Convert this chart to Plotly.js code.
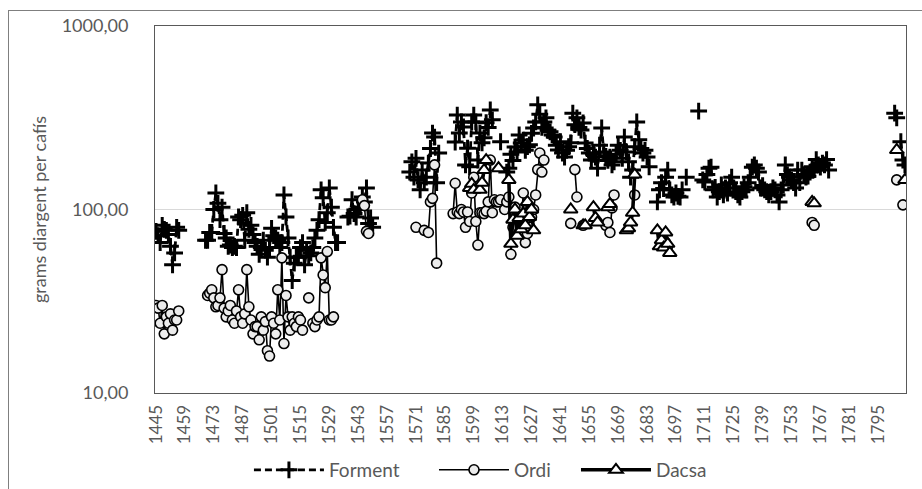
<!DOCTYPE html>
<html>
<head>
<meta charset="utf-8">
<script src="https://cdn.plot.ly/plotly-3.0.1.min.js"></script>
<style>
  html, body { margin: 0; padding: 0; background: #ffffff; }
  #wrap { position: relative; width: 922px; height: 489px; overflow: hidden; }
  #chart { position: absolute; left: 0; top: 0; width: 922px; height: 489px; }
  #frame { position: absolute; left: 8px; top: 10px; width: 930px; height: 500px;
           border-left: 1px solid #7f7f7f; border-top: 1px solid #7f7f7f; pointer-events: none; }
</style>
</head>
<body>
<div id="wrap">
  <div id="chart"></div>
  <div id="frame"></div>
</div>
<script>
// ---- Data (years as categories, values in grams of silver per cafís) ----
const xTickYears = [1445,1459,1473,1487,1501,1515,1529,1543,1557,1571,1585,1599,1613,
                    1627,1641,1655,1669,1683,1697,1711,1725,1739,1753,1767,1781,1795];
const yTickValues = [10, 100, 1000];
const yTickLabels = ['10,00', '100,00', '1000,00'];
const seriesNames = ['Forment', 'Ordi', 'Dacsa'];

const formentYears = [
  1445,1446,1447,1448,1449,1450,1451,1452,1453,1454,1455,1456,1457,
  1469,1470,1471,1472,1473,1474,1475,1476,1477,1478,
  1479,1480,1481,1482,1483,1484,1485,1486,1487,1488,
  1489,1490,1491,1492,1493,1494,1495,1496,1497,1498,
  1499,1500,1501,1502,1503,1504,1505,1506,1507,1508,
  1509,1510,1511,1512,1513,1514,1515,1516,1517,1518,
  1519,1520,1521,1522,1523,1524,1525,1526,1527,1528,
  1529,1530,1531,1532,1533,1534,
  1538,1539,1540,1541,1542,1543,1544,1545,1546,1547,1548,1549,1550,1551,
  1568,1569,1570,1571,1572,1573,1574,1575,1576,1577,1578,1579,1580,1581,1582,1583,
  1590,1591,1592,1593,1594,1595,1596,1597,1598,1599,1600,1601,1602,1603,1604,1605,1606,1607,1608,1609,
  1612,1613,
  1615,1616,1617,1618,1619,1620,1621,1622,1623,1624,
  1625,1626,1627,1628,1629,1630,1631,1632,1633,1634,
  1635,1636,1637,1638,1639,1640,
  1641,1642,1643,1644,1645,1646,1647,1648,1649,1650,
  1651,1652,1653,1654,1655,1656,1657,1658,1659,1660,
  1661,1662,1663,1664,1665,1666,1667,1668,1669,1670,
  1671,1672,1673,1674,1675,1676,1677,1678,1679,1680,
  1681,1682,1683,1684,1685,
  1688,1689,1690,1691,1692,1693,1694,1695,1696,1697,1698,1699,1700,1701,
  1702,1703,
  1708,1709,
  1710,1711,1712,1713,1714,1715,1716,1717,1718,1719,
  1720,1721,1722,1723,1724,1725,1726,1727,1728,1729,
  1730,1731,1732,1733,1734,1735,1736,1737,1738,1739,
  1740,1741,1742,1743,1744,1745,1746,1747,1748,1749,
  1750,1751,1752,1753,1754,1755,1756,1757,1758,1759,
  1760,1761,1762,1763,1764,1765,1766,1767,1768,1769,
  1770,1771,1772,
  1803,1804,1805,1806,1807,1808
];
const formentValues = [
  76,72,66,82,78,77,73,63,50,58,80,77,null,
  68,68,75,75,100,123,108,88,103,74,
  70,63,64,62,63,62,91,88,93,68,
  96,78,82,73,66,63,57,62,68,60,
  55,62,79,72,70,68,62,66,120,91,
  70,55,41,51,55,55,62,66,50,60,
  56,58,62,70,77,88,128,116,85,96,
  131,103,80,66,66,null,
  91,92,113,95,91,100,103,117,110,131,84,90,80,null,
  160,182,150,190,145,128,164,140,150,179,215,261,248,140,203,null,
  233,327,261,300,282,175,216,171,300,327,300,186,261,231,246,297,280,349,308,null,
  234,null,
  160,168,200,185,219,206,255,230,239,210,
  220,225,260,278,300,372,330,280,300,316,
  270,265,255,248,224,211,
  234,203,193,210,220,231,335,290,316,280,
  271,296,230,215,203,186,200,193,168,224,
  278,206,195,185,193,175,182,200,224,210,
  190,248,206,182,150,164,220,300,240,215,
  203,210,193,171,null,
  110,128,140,130,150,164,128,120,117,123,118,117,128,null,
  150,null,
  344,null,
  145,141,155,168,170,128,132,117,125,136,
  120,131,123,140,150,131,125,120,117,125,
  133,128,140,150,170,175,168,160,131,135,
  128,125,120,125,131,128,120,110,128,136,
  175,155,150,145,140,131,164,140,164,155,
  150,152,160,171,165,187,175,170,179,175,
  187,164,null,
  335,316,null,234,186,175
];

const ordiYears = [
  1445,1446,1447,1448,1449,1450,1451,1452,1453,1454,1455,1456,1457,
  1470,1471,1472,1473,1474,1475,1476,1477,1478,1479,
  1480,1481,1482,1483,1484,1485,1486,1487,1488,1489,
  1490,1491,1492,1493,1494,1495,1496,1497,1498,1499,
  1500,1501,1502,1503,1504,1505,1506,1507,1508,1509,
  1510,1511,1512,1513,1514,1515,1516,1517,1518,1519,
  1520,1521,1522,1523,1524,1525,1526,1527,1528,1529,1530,1531,1532,
  1545,1546,1547,1548,1549,
  1571,1572,1575,1576,1577,1578,1579,1580,1581,1582,
  1589,1590,1591,1592,1593,1594,1595,1596,1597,1598,
  1599,1600,1601,1602,1603,1604,1605,1606,1607,1608,
  1609,1610,1611,1612,1613,
  1614,1615,1616,1617,1618,1619,1620,1621,1622,1623,
  1624,1625,1626,1627,1628,1629,1630,1631,1632,1633,1634,
  1646,1647,1648,1649,1650,1652,1653,
  1663,1664,1665,1666,1667,1668,
  1677,1678,
  1692,1693,1694,
  1763,1764,1765,
  1804,1805,1807
];
const ordiValues = [
  30,29,24,30,21,26,24,27,22,25,25,28,null,
  34,35,36.5,33,29.5,30,33,47,29,26,
  28,30,25,24,28,36.5,26,24,27,47,
  29.5,25,21,23,23,19.5,26,22,24.5,17,
  15.9,26,24,21,36.5,25,54.5,18.6,34,26,
  22,26,24,23,26,25,22,null,null,33,
  null,24,23,25,26,54.5,44,37.5,59,25,25,26,null,
  113,105,76,74,null,
  80,null,77,null,75,110,115,175,51,null,
  95,139,97,95,100,97,80,97,86,123,
  150,86,64,96,96,95,98,110,186,96,
  113,110,110,113,null,
  100,110,117,57,80,103,90,75,85,123,
  66,74,80,91,100,120,165,203,160,186,null,
  84,null,165,117,null,82,null,
  82,85,75,102,120,null,
  120,null,
  66,63,null,
  85,82,null,
  145,null,106
];

const dacsaYears = [
  1597,1598,1599,1600,
  1602,1603,1604,1605,1606,
  1611,1612,
  1616,1617,1618,1619,1620,1621,1622,1623,1624,1625,1626,1627,1628,1629,
  1646,1647,
  1652,1653,1654,
  1657,1658,1659,1660,
  1664,1665,1666,
  1673,1674,1675,1676,1677,1678,
  1688,1689,1690,1691,1692,1693,1694,1695,
  1763,1764,1765,
  1804,1805,1808
];
const dacsaValues = [
  131,138,128,null,
  128,140,164,186,null,
  168,null,
  145,65,88,100,72,90,78,95,82,110,91,100,77,null,
  100,null,
  82,82,null,
  103,90,85,null,
  103,107,null,
  77,79,85,96,155,null,
  77,63,68,62,75,65,58,null,
  110,108,null,
  211,null,145
];

// ---- Chart ----
const grey = '#595959';
const font = 'Lato, "Open Sans", "DejaVu Sans", sans-serif';

const traces = [
  {
    name: seriesNames[0], x: formentYears, y: formentValues, legend: 'legend',
    type: 'scatter', mode: 'lines+markers', connectgaps: false, hoverinfo: 'skip',
    line: { color: '#000000', width: 2.8, dash: '7px,4px' },
    marker: { symbol: 'cross-thin', size: 12, color: '#000000', line: { color: '#000000', width: 3 } }
  },
  {
    name: seriesNames[1], x: ordiYears, y: ordiValues, legend: 'legend2',
    type: 'scatter', mode: 'lines+markers', connectgaps: false, hoverinfo: 'skip',
    line: { color: '#000000', width: 1.6 },
    marker: { symbol: 'circle', size: 10, color: '#ececec', line: { color: '#000000', width: 1.6 } }
  },
  {
    name: seriesNames[2], x: dacsaYears, y: dacsaValues, legend: 'legend3',
    type: 'scatter', mode: 'lines+markers', connectgaps: false, hoverinfo: 'skip',
    line: { color: '#000000', width: 3.6 },
    marker: { symbol: 'triangle-up', size: 12, color: '#ffffff', line: { color: '#000000', width: 2 } }
  }
];

function legendAt(xFrac) {
  return {
    orientation: 'h', xref: 'container', yref: 'container',
    x: xFrac, xanchor: 'left', y: 0.039, yanchor: 'middle',
    itemwidth: 70,
    font: { family: font, size: 19, color: grey }, bgcolor: 'rgba(0,0,0,0)'
  };
}

const layout = {
  width: 922, height: 489,
  margin: { l: 155, r: 16, t: 26, b: 96, autoexpand: false },
  paper_bgcolor: '#ffffff', plot_bgcolor: '#ffffff',
  font: { family: font, color: grey },
  showlegend: true,
  legend: legendAt(0.270),
  legend2: legendAt(0.4707),
  legend3: legendAt(0.6247),
  xaxis: {
    type: 'linear', range: [1444.5, 1808.5], automargin: false,
    tickmode: 'array', tickvals: xTickYears, ticktext: xTickYears.map(String),
    tickangle: -90, tickfont: { family: font, size: 17, color: grey },
    showline: true, mirror: true, linecolor: grey, linewidth: 1,
    showgrid: false, zeroline: false, ticks: '', ticklabelstandoff: 4
  },
  yaxis: {
    type: 'log', range: [1, 3], automargin: false,
    tickmode: 'array', tickvals: yTickValues, ticktext: yTickLabels,
    tickfont: { family: font, size: 18, color: grey },
    showline: true, mirror: true, linecolor: grey, linewidth: 1,
    showgrid: true, gridcolor: '#d9d9d9', gridwidth: 1, zeroline: false,
    ticks: '', ticklabelstandoff: 22,
    title: { text: 'grams diargent per cafís', font: { family: font, size: 18, color: grey }, standoff: 10 }
  }
};

Plotly.newPlot('chart', traces, layout, { displayModeBar: false, staticPlot: true });
</script>
</body>
</html>
